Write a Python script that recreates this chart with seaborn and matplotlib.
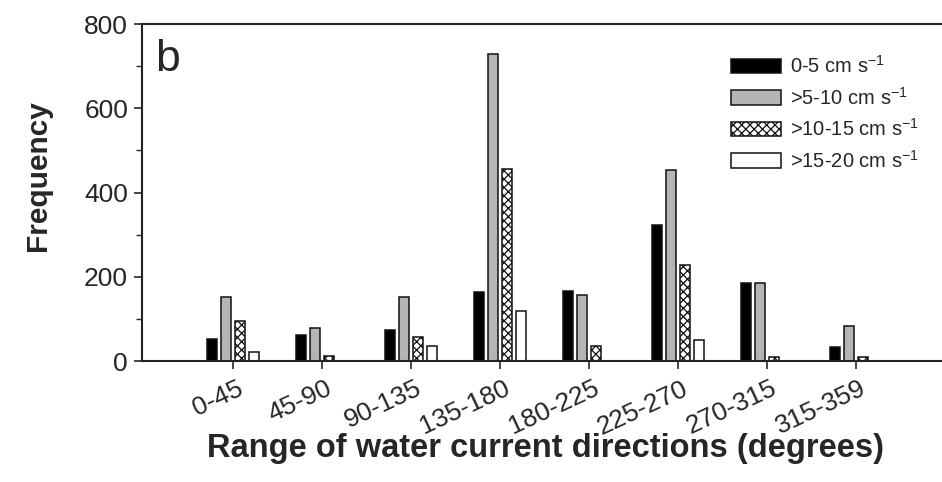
import numpy as np
import pandas as pd
import matplotlib
matplotlib.use("Agg")
import matplotlib.pyplot as plt
import matplotlib.transforms as mtransforms
import seaborn as sns
from matplotlib.ticker import MultipleLocator

sns.set_theme(style="ticks")
plt.rcParams['font.family'] = ['Liberation Sans', 'DejaVu Sans']
plt.rcParams['hatch.linewidth'] = 0.9

categories = ["0-45", "45-90", "90-135", "135-180", "180-225", "225-270", "270-315", "315-359"]
series = ["0-5 cm s$^{\\mathregular{-1}}$", ">5-10 cm s$^{\\mathregular{-1}}$",
          ">10-15 cm s$^{\\mathregular{-1}}$", ">15-20 cm s$^{\\mathregular{-1}}$"]
v_0_5 = [52, 62, 74, 165, 166, 323, 185, 33]
v_5_10 = [152, 78, 152, 730, 157, 454, 185, 83]
v_10_15 = [95, 12, 57, 455, 36, 228, 9, 9]
v_15_20 = [21, 0, 36, 119, 0, 50, 0, 0]

df = pd.DataFrame({
    "direction": np.tile(categories, 4),
    "speed": np.repeat(series, len(categories)),
    "freq": v_0_5 + v_5_10 + v_10_15 + v_15_20,
})

fig = plt.figure(figsize=(9.42, 4.82), dpi=100)
ax = fig.add_axes([0.1507, 0.251, 0.8493, 0.699])

palette = ["#000000", "#b5b5b5", "#ffffff", "#ffffff"]
sns.barplot(data=df, x="direction", y="freq", hue="speed", order=categories,
            hue_order=series, palette=palette, width=0.63, gap=0.28,
            edgecolor="#111111", linewidth=1.1, saturation=1, legend=False,
            errorbar=None, ax=ax)

for i, cont in enumerate(ax.containers):
    for p in cont.patches:
        if i == 2:
            p.set_hatch("xxxx")
        if p.get_height() == 0:
            p.set_visible(False)

leg = fig.legend(ax.containers, series, loc="upper left",
                 bbox_to_anchor=(731 / 942, 1 - 55 / 482),
                 frameon=False, fontsize=14.5, handlelength=2.5, handleheight=0.75,
                 handletextpad=0.45, labelspacing=0.48, borderaxespad=0, borderpad=0)

ax.set_xlim(-1.02, 7.97)
ax.set_ylim(0, 800)
ax.yaxis.set_major_locator(MultipleLocator(200))
ax.yaxis.set_minor_locator(MultipleLocator(100))
ax.tick_params(axis="y", which="major", length=6, width=1.2, labelsize=19, pad=4)
ax.tick_params(axis="y", which="minor", length=4, width=1.0, left=True)
ax.tick_params(axis="x", length=6, width=1.2, labelsize=19, pad=5)
offset = mtransforms.ScaledTranslation(4 / 100, 0, fig.dpi_scale_trans)
for lab in ax.get_xticklabels():
    lab.set_rotation(25)
    lab.set_ha("right")
    lab.set_rotation_mode("anchor")
    lab.set_transform(lab.get_transform() + offset)

for s in ["left", "bottom", "top"]:
    ax.spines[s].set_linewidth(1.5)
    ax.spines[s].set_color("#222222")
ax.spines["right"].set_visible(False)

ax.set_xlabel("Range of water current directions (degrees)", fontsize=23.5,
              fontweight="bold")
ax.xaxis.set_label_coords(0.505, -0.215)
ax.set_ylabel("Frequency", fontsize=21.5, fontweight="bold")
ax.yaxis.set_label_coords(-0.113, 0.55)
ax.text(0.017, 0.955, "b", transform=ax.transAxes, fontsize=32, va="top", ha="left")

fig.savefig("out.png", dpi=100)
